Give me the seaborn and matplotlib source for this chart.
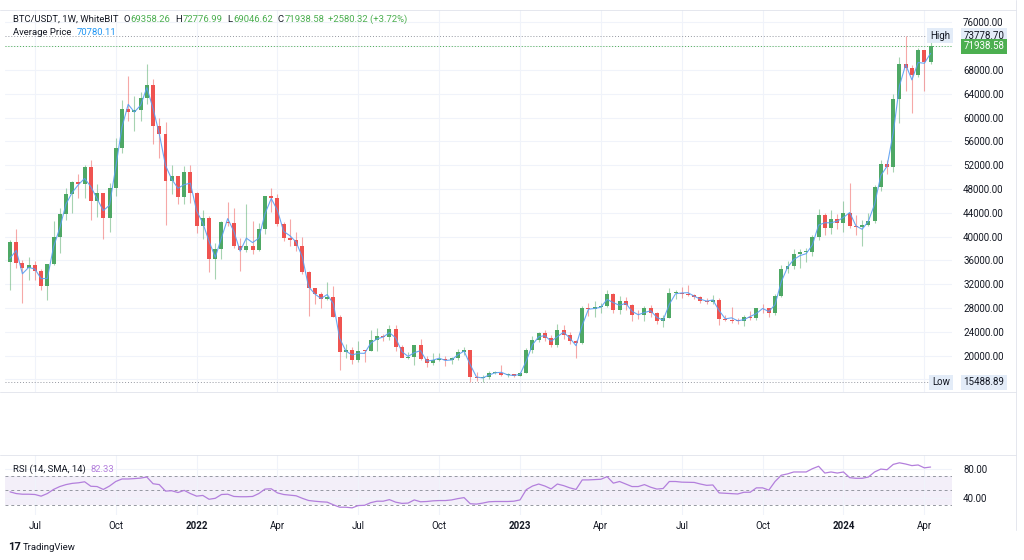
import numpy as np
import pandas as pd
import matplotlib
matplotlib.use("Agg")
import matplotlib.pyplot as plt
import matplotlib.ticker as mticker
from matplotlib.lines import Line2D
import seaborn as sns

# --- data: BTC/USDT weekly candles ---
dates = pd.date_range("2021-06-07", periods=149, freq="W-MON")

opens = [
    35800, 39100, 35500, 34700, 35290, 34260, 31780, 35400, 39850, 43800,
    47080, 49170, 48830, 51750, 46000, 47250, 43170, 48200, 54950, 61500,
    60850, 61300, 63270, 65500, 58620, 57270, 49400, 50100, 46700, 50800,
    47300, 41860, 43080, 36280, 37920, 42400, 42200, 38400, 37700, 38400,
    37800, 41250, 46800, 46400, 42150, 39700, 39450, 38470, 34050, 31300,
    30290, 29450, 29900, 26570, 20550, 21030, 19300, 20830, 20800, 22580,
    23300, 23170, 24440, 21520, 19550, 19830, 21800, 19420, 18800, 19310,
    19420, 19200, 19570, 20630, 20900, 16330, 16280, 16430, 17100, 17100,
    16780, 16840, 16550, 17130, 20880, 22700, 23750, 22950, 21800, 24300,
    23550, 22430, 22100, 28000, 27800, 28200, 28330, 30300, 27600, 29250,
    28440, 26900, 26750, 28070, 27100, 25900, 26330, 30500, 30600, 30300,
    30250, 29800, 29230, 29050, 29400, 26100, 26000, 25850, 25830, 26530,
    26250, 27970, 27930, 27150, 29990, 34530, 35000, 37060, 37400, 37450,
    39950, 43700, 41400, 42980, 42280, 43950, 41730, 41580, 42030, 42580,
    48300, 52130, 51730, 63100, 68950, 68400, 67200, 71300, 69358.26,
]
highs = [
    39480, 41330, 36000, 36600, 35950, 34600, 35400, 42600, 44800, 48150,
    49380, 50500, 52000, 52920, 48850, 47400, 49000, 56560, 62930, 67000,
    63700, 64300, 69000, 66400, 59900, 59200, 51950, 50200, 51900, 52100,
    47570, 44500, 43500, 38900, 42650, 45800, 44800, 39800, 45400, 42600,
    42350, 46900, 48200, 47200, 42400, 42950, 40800, 40000, 34300, 31300,
    30650, 32400, 31750, 26900, 21900, 21500, 22500, 21000, 24300, 24650,
    23650, 25200, 25200, 21850, 20600, 21850, 22800, 19950, 20400, 20450,
    19950, 19700, 21100, 21480, 21000, 17200, 16800, 17400, 17430, 18400,
    17050, 16950, 17200, 21300, 23380, 23950, 24250, 23400, 25250, 25100,
    23900, 22600, 28400, 28800, 29200, 28800, 31000, 30500, 30000, 29850,
    28650, 27650, 28300, 28450, 27350, 26800, 31400, 31000, 31500, 31800,
    30400, 29990, 29750, 30250, 29700, 26800, 28150, 26400, 26900, 27500,
    28050, 28600, 28000, 30350, 35200, 35900, 37980, 37950, 38000, 40250,
    44700, 44000, 44400, 43800, 45900, 49000, 43600, 42800, 43900, 48600,
    52800, 52900, 64000, 70200, 73778.70, 68900, 71700, 71300, 72776.99,
]
lows = [
    31000, 34800, 28800, 32700, 32700, 31100, 29300, 35200, 37300, 42800,
    44000, 46400, 46500, 42840, 43370, 39600, 40750, 46900, 54100, 59500,
    57820, 59400, 62300, 55600, 53250, 42000, 47100, 45500, 45500, 45700,
    40600, 39650, 34000, 32950, 36250, 41700, 38000, 34300, 37450, 37150,
    37550, 40450, 44200, 41850, 39200, 38500, 37600, 33700, 26700, 28600,
    28000, 29300, 26550, 17600, 19600, 18600, 19000, 18900, 20700, 20700,
    22400, 22650, 20800, 19750, 19500, 18500, 19300, 18150, 18450, 19100,
    18200, 18650, 19250, 20050, 15600, 15820, 15488.89, 16000, 16870, 16500,
    16400, 16330, 16500, 17100, 20400, 22300, 22500, 21450, 21400, 22800,
    21950, 19550, 21900, 26600, 26500, 27200, 28160, 27200, 26950, 27650,
    25800, 26200, 25850, 26500, 25350, 24800, 26250, 29500, 29700, 29950,
    29500, 28900, 28600, 28700, 25150, 25800, 25400, 25350, 24900, 26000,
    26000, 27200, 26550, 26800, 29900, 33900, 34500, 34800, 35650, 36700,
    39400, 40200, 40500, 41300, 40750, 41500, 40300, 38500, 41800, 42250,
    47700, 50500, 50900, 59000, 64500, 60800, 66800, 64500, 69046.62,
]
closes = [
    39100, 35500, 34700, 35290, 34260, 31780, 35400, 39850, 43800, 47080,
    49170, 48830, 51750, 46000, 47250, 43170, 48200, 54950, 61500, 60850,
    61300, 63270, 65500, 58620, 57270, 49400, 50100, 46700, 50800, 47300,
    41860, 43080, 36280, 37920, 42400, 42200, 38400, 37700, 38400, 37800,
    41250, 46800, 46400, 42150, 39700, 39450, 38470, 34050, 31300, 30290,
    29450, 29900, 26570, 20550, 21030, 19300, 20830, 20800, 22580, 23300,
    23170, 24440, 21520, 19550, 19830, 21800, 19420, 18800, 19310, 19420,
    19200, 19570, 20630, 20900, 16330, 16280, 16430, 17100, 17100, 16780,
    16840, 16550, 17130, 20880, 22700, 23750, 22950, 21800, 24300, 23550,
    22430, 22100, 28000, 27800, 28200, 28330, 30300, 27600, 29250, 28440,
    26900, 26750, 28070, 27100, 25900, 26330, 30500, 30600, 30300, 30250,
    29800, 29230, 29050, 29400, 26100, 26000, 25850, 25830, 26530, 26250,
    27970, 27930, 27150, 29990, 34530, 35000, 37060, 37400, 37450, 39950,
    43700, 41400, 42980, 42280, 43950, 41730, 41580, 42030, 42580, 48300,
    52130, 51730, 63100, 68950, 68400, 67200, 71300, 69358.26, 71938.58,
]
# RSI(14) as plotted in the lower pane
rsi = [
    48, 45.6, 44.7, 44.7, 44.3, 42, 45.6, 51.3, 55.3, 58,
    59.7, 60.5, 61.9, 55.7, 55.3, 51.3, 56, 62.3, 65.8, 65.8,
    66.3, 67, 68.5, 59.2, 58, 49, 49.5, 47, 50, 45.6,
    42, 43, 37.7, 39, 44.3, 44.7, 41.6, 41.2, 41.2, 41.6,
    45.6, 51.8, 52.2, 46.5, 44.3, 43.4, 42.5, 39, 36, 35,
    34.2, 33.7, 30, 26.7, 26.7, 25.8, 29, 29.3, 33, 35,
    35, 37.2, 33.7, 32, 32.4, 36.8, 34.2, 34.6, 35.5, 35.9,
    35.9, 36.8, 38.6, 40, 31.5, 31, 32.4, 34.2, 34.6, 34.6,
    34.6, 35, 36.8, 51, 56, 58.8, 56, 52, 58.8, 56.6,
    53.5, 51.3, 64.5, 64.5, 65, 65.4, 69, 60, 62.3, 58.8,
    55.3, 55.3, 58, 54.4, 51.8, 52.6, 62.3, 62.3, 61.4, 61.2,
    61, 58.8, 57, 57.5, 46.5, 46, 45.5, 45, 47.4, 47.4,
    53.5, 53.5, 50.4, 62.3, 71, 72.8, 75.5, 75.5, 75.5, 80,
    83.4, 74, 75.5, 74, 75.5, 67.6, 66.7, 66.7, 68.5, 75.5,
    79.5, 78.6, 86, 88.2, 86.5, 84.3, 85.2, 81.2, 82.33,
]
tick_months = ["2021-07", "2021-10", "2022-01", "2022-04", "2022-07", "2022-10",
               "2023-01", "2023-04", "2023-07", "2023-10", "2024-01", "2024-04"]
tick_labels = ["Jul", "Oct", "2022", "Apr", "Jul", "Oct",
               "2023", "Apr", "Jul", "Oct", "2024", "Apr"]
price_ticks = list(range(16000, 80000, 4000))

# --- style ---
sns.set_theme(style="white")
plt.rcParams["font.family"] = ["Roboto", "DejaVu Sans"]

GREEN = "#4ea865"
RED = "#ef5350"
TAG_GREEN = "#4caf50"
TXT = "#131722"
GRID = "#f0f3fa"
PURPLE = "#b37fdc"
BLUE = "#5a9ef2"

o = np.array(opens)
h = np.array(highs)
l = np.array(lows)
c = np.array(closes)
x = np.arange(len(dates))
avg_price = (o + h + l + c) / 4
up = c >= o
cols = np.where(up, GREEN, RED)
tick_pos = [int(np.argmax(dates >= pd.Timestamp(m + "-01"))) for m in tick_months]

W, H = 1024, 560
fig = plt.figure(figsize=(W / 100, H / 100), dpi=100)
fig.patch.set_facecolor("white")


def fx(px):
    return px / W


def fy(py):
    return 1 - py / H


# pixel mapping: candle i sits at 10 + 6.22 * i
x0 = (5 - 10) / 6.22
x1 = (952 - 10) / 6.22

ax = fig.add_axes([fx(5), fy(392), fx(947), 382 / H])
ax2 = fig.add_axes([fx(5), fy(515), fx(947), 60 / H])

# --- main pane ---
ax.vlines(x, l, h, colors=cols, lw=0.8, alpha=0.5, zorder=2)
body = np.maximum(np.abs(c - o), 120)
ax.bar(x, body, bottom=np.minimum(o, c), width=0.64, color=cols, lw=0, zorder=3)
sns.lineplot(x=x, y=avg_price, ax=ax, color=BLUE, lw=0.8, alpha=0.9, zorder=4)

hi, lo, last = h.max(), l.min(), c[-1]
ax.axhline(hi, color="#9598a1", ls=(0, (1, 2)), lw=0.7, zorder=1)
ax.axhline(lo, color="#9598a1", ls=(0, (1, 2)), lw=0.7, zorder=1)
ax.axhline(last, color=TAG_GREEN, ls=(0, (1, 2)), lw=0.7, zorder=1)

ax.set_xlim(x0, x1)
ax.set_ylim(76000 - (392 - 22.3) * 168, 76000 + (22.3 - 10) * 168)
ax.yaxis.tick_right()
ax.yaxis.set_major_locator(mticker.FixedLocator(price_ticks))
ax.yaxis.set_major_formatter(mticker.FuncFormatter(
    lambda v, p: "" if v in (72000, 16000) else f"{v:.2f}"))
ax.set_xticks(tick_pos)
ax.set_xticklabels([])
ax.tick_params(axis="y", length=0, pad=8, labelsize=7, labelcolor=TXT)
ax.tick_params(axis="x", length=0)
ax.grid(True, color=GRID, lw=0.8)
for s in ax.spines.values():
    s.set_visible(False)


def tag(axis, y, text, fc, tc, dx=8.3, ha="left"):
    axis.annotate(text, xy=(1, y), xycoords=("axes fraction", "data"),
                  xytext=(dx, 0), textcoords="offset points", ha=ha, va="center",
                  fontsize=7, color=tc, zorder=10, annotation_clip=False,
                  bbox=dict(boxstyle="square,pad=0.3", fc=fc, ec="none"))


tag(ax, hi, "High", "#e3ecf8", TXT, dx=-1.5, ha="right")
tag(ax, hi, f"{hi:.2f}", "#e3ecf8", TXT)
tag(ax, last, f"{last:.2f}", TAG_GREEN, "white")
tag(ax, lo, "Low", "#e3ecf8", TXT, dx=-1.5, ha="right")
tag(ax, lo, f"{lo:.2f}", "#e3ecf8", TXT)

# --- RSI pane ---
ax2.axhspan(30, 70, color="#7e57c2", alpha=0.09, lw=0, zorder=0)
for lvl in (70, 50, 30):
    ax2.axhline(lvl, color="#9598a1", ls=(0, (3, 3)), lw=0.7, zorder=1)
sns.lineplot(x=x, y=rsi, ax=ax2, color=PURPLE, lw=0.9, zorder=3)
ax2.set_xlim(x0, x1)
ax2.set_ylim(15.9, 99)
ax2.yaxis.tick_right()
ax2.set_yticks([40, 80])
ax2.set_yticklabels(["40.00", "80.00"])
ax2.set_xticks(tick_pos)
ax2.set_xticklabels(tick_labels)
for t in ax2.get_xticklabels():
    if t.get_text().isdigit():
        t.set_fontweight("bold")
ax2.tick_params(axis="y", length=0, pad=8, labelsize=7, labelcolor=TXT)
ax2.tick_params(axis="x", length=0, pad=4, labelsize=7, labelcolor=TXT)
ax2.grid(True, color=GRID, lw=0.8)
ax2.set_ylabel("")
for s in ax2.spines.values():
    s.set_visible(False)

# pane separators / frame
for py in (10, 392, 455):
    fig.add_artist(Line2D([fx(0), fx(1016)], [fy(py), fy(py)], color="#e0e3eb", lw=0.6))
fig.add_artist(Line2D([fx(1016), fx(1016)], [fy(0), fy(530)], color="#e0e3eb", lw=0.6))

# --- header texts, chained left to right ---
fs = 6.8
renderer = fig.canvas.get_renderer()


def text_row(px, py, pieces):
    for s, col, gap in pieces:
        t = fig.text(fx(px), fy(py), s, fontsize=fs, color=col, va="center")
        px += t.get_window_extent(renderer).width + gap


text_row(13, 19, [("BTC/USDT, 1W, WhiteBIT", TXT, 5),
                  ("O", TXT, 0.5), ("69358.26", TAG_GREEN, 5),
                  ("H", TXT, 0.5), ("72776.99", TAG_GREEN, 5),
                  ("L", TXT, 0.5), ("69046.62", TAG_GREEN, 5),
                  ("C", TXT, 0.5), ("71938.58", TAG_GREEN, 4),
                  ("+2580.32 (+3.72%)", TAG_GREEN, 0)])
text_row(13, 32.5, [("Average Price", TXT, 5), ("70780.11", "#2196f3", 0)])
text_row(13, 469, [("RSI (14, SMA, 14)", TXT, 5), ("82.33", PURPLE, 0)])

fig.text(fx(8), fy(547), "17", fontsize=8, fontweight="bold", color=TXT, va="center")
fig.text(fx(23), fy(547), "TradingView", fontsize=6.8, color=TXT, va="center")

fig.savefig("out.png", dpi=100)
